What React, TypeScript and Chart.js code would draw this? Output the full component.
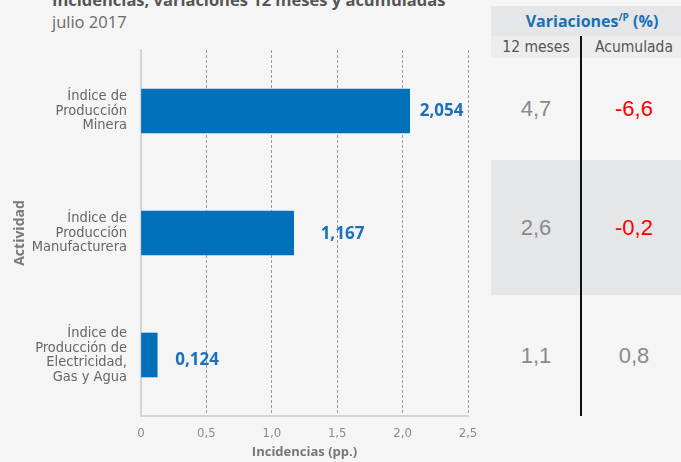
import React, { useEffect, useRef } from "react";
import { Chart, registerables } from "chart.js";

Chart.register(...registerables);

// ---- data ----
const categories: string[][] = [
  ["Índice de", "Producción", "Minera"],
  ["Índice de", "Producción", "Manufacturera"],
  ["Índice de", "Producción de", "Electricidad,", "Gas y Agua"],
];
const incidencias: number[] = [2.054, 1.167, 0.124];
const incidenciaLabels: string[] = ["2,054", "1,167", "0,124"];
const xTickLabels: string[] = ["0", "0,5", "1,0", "1,5", "2,0", "2,5"];
const var12Meses: string[] = ["4,7", "2,6", "1,1"];
const varAcumulada: string[] = ["-6,6", "-0,2", "0,8"];

const title = "Incidencias, variaciones 12 meses y acumuladas";
const subtitle = "julio 2017";
const yTitle = "Actividad";
const xTitle = "Incidencias (pp.)";

// ---- styles ----
const NARROW = "'Liberation Sans Narrow', 'DejaVu Sans Condensed', 'Open Sans', sans-serif";
const OPEN = "'Open Sans', sans-serif";
const BLUE = "#0070bb";
const LABEL_DX = [10, 27, 18];
const LABEL_DY = [0, 1, 5];
const ROW_HEIGHTS = [102, 135, 121];

const labelPlugin = {
  id: "barLabels",
  afterDatasetsDraw(chart: any) {
    const ctx = chart.ctx;
    const meta = chart.getDatasetMeta(0);
    ctx.save();
    ctx.font = `bold 17px ${OPEN}`;
    ctx.fillStyle = "#1b71b9";
    ctx.textBaseline = "middle";
    ctx.textAlign = "left";
    meta.data.forEach((bar: any, i: number) => {
      ctx.fillText(incidenciaLabels[i], bar.x + LABEL_DX[i], bar.y + LABEL_DY[i]);
    });
    ctx.restore();
  },
};

function ChartPanel() {
  const ref = useRef<HTMLCanvasElement | null>(null);
  useEffect(() => {
    if (!ref.current) return;
    const chart = new Chart(ref.current, {
      type: "bar",
      data: {
        labels: categories as any,
        datasets: [
          {
            data: incidencias,
            backgroundColor: BLUE,
            borderWidth: 0,
            barThickness: 44,
          },
        ],
      },
      options: {
        indexAxis: "y",
        animation: false,
        responsive: false,
        devicePixelRatio: 1,
        layout: { padding: { top: 50, right: 22, left: 0, bottom: 0 } },
        plugins: { legend: { display: false }, tooltip: { enabled: false } },
        scales: {
          x: {
            type: "linear",
            min: 0,
            max: 2.5,
            ticks: {
              stepSize: 0.5,
              color: "#8a8a8a",
              font: { family: NARROW, size: 13 },
              padding: 10,
              callback: (_v: any, i: number) => xTickLabels[i],
            },
            grid: {
              drawTicks: false,
              lineWidth: 1,
              color: (c: any) => (c.tick && c.tick.value === 0 ? "rgba(0,0,0,0)" : "#9a9a9a"),
            },
            border: { display: true, color: "#d6d6d6", width: 2, dash: [3, 2] },
            title: {
              display: true,
              text: xTitle,
              color: "#777777",
              font: { family: OPEN, size: 13, weight: "bold" },
              padding: { top: 0, bottom: 2 },
            },
            afterFit: (s: any) => {
              s.height = 46;
            },
          },
          y: {
            type: "category",
            ticks: {
              color: "#666666",
              font: { family: NARROW, size: 14.5, lineHeight: 1.0 },
              padding: 14,
            },
            grid: { display: false, drawTicks: false },
            border: { display: true, color: "#d4d4d4", width: 2 },
            title: {
              display: true,
              text: yTitle,
              color: "#7a7a7a",
              font: { family: OPEN, size: 14, weight: "bold" },
              padding: { top: 12, bottom: 0 },
            },
            afterFit: (s: any) => {
              s.width = 141;
            },
          },
        },
      } as any,
      plugins: [labelPlugin],
    });
    return () => chart.destroy();
  }, []);
  return (
    <canvas
      ref={ref}
      width={490}
      height={462}
      style={{ position: "absolute", left: 0, top: 0, width: 490, height: 462 }}
    />
  );
}

function Table() {
  return (
    <>
      <div
        style={{
          position: "absolute",
          left: 491,
          top: 6,
          width: 190,
          height: 30,
          background: "#e5e6e8",
          color: "#1a6fb5",
          fontFamily: OPEN,
          fontWeight: 700,
          fontSize: 16,
          lineHeight: "30px",
          textAlign: "center",
          boxSizing: "border-box",
          paddingLeft: 12,
        }}
      >
        Variaciones
        <sup style={{ fontSize: 10, verticalAlign: "top", lineHeight: "22px" }}>/P</sup> (%)
      </div>
      <div
        style={{
          position: "absolute",
          left: 491,
          top: 36,
          width: 190,
          height: 22,
          background: "#ededee",
          color: "#555555",
          fontFamily: NARROW,
          fontSize: 15.5,
          lineHeight: "22px",
        }}
      >
        <div style={{ position: "absolute", left: 0, width: 90, textAlign: "center" }}>12 meses</div>
        <div style={{ position: "absolute", left: 90, width: 100, textAlign: "center", paddingLeft: 3 }}>Acumulada</div>
      </div>
      {(() => {
        let top = 58;
        return var12Meses.map((v, i) => {
          const h = ROW_HEIGHTS[i];
          const t = top;
          top += h;
          const acc = varAcumulada[i];
          return (
            <div
              key={i}
              style={{
                position: "absolute",
                left: 491,
                top: t,
                width: 190,
                height: h,
                background: i === 1 ? "#e5e6e8" : "transparent",
                fontFamily: "'Liberation Sans', Arial, sans-serif",
                fontSize: 22,
                lineHeight: `${h}px`,
              }}
            >
              <div style={{ position: "absolute", left: 0, width: 90, textAlign: "center", color: "#8a8a8a" }}>{v}</div>
              <div
                style={{
                  position: "absolute",
                  left: 90,
                  width: 100,
                  textAlign: "center",
                  paddingLeft: 3,
                  color: acc.startsWith("-") ? "#ff0000" : "#8a8a8a",
                }}
              >
                {acc}
              </div>
            </div>
          );
        });
      })()}
      <div
        style={{
          position: "absolute",
          left: 580,
          top: 36,
          width: 1.5,
          height: 380,
          background: "#111111",
        }}
      />
    </>
  );
}

export default function App() {
  return (
    <div
      style={{
        position: "fixed",
        left: 0,
        top: 0,
        width: 681,
        height: 462,
        background: "#f5f5f5",
        overflow: "hidden",
      }}
    >
      <div
        style={{
          position: "absolute",
          left: 52,
          top: -10,
          fontFamily: OPEN,
          fontWeight: 700,
          fontSize: 16.5,
          lineHeight: "20px",
          color: "#555555",
          whiteSpace: "nowrap",
        }}
      >
        {title}
      </div>
      <div
        style={{
          position: "absolute",
          left: 52,
          top: 12,
          fontFamily: OPEN,
          fontWeight: 400,
          fontSize: 16.5,
          lineHeight: "20px",
          color: "#6a6a6a",
          whiteSpace: "nowrap",
        }}
      >
        {subtitle}
      </div>
      <ChartPanel />
      <Table />
    </div>
  );
}
